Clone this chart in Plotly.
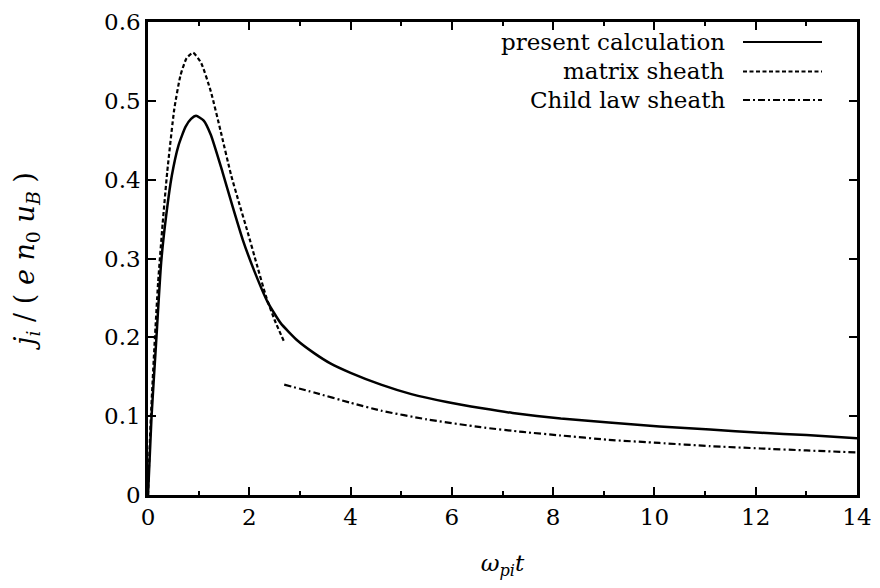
import plotly.graph_objects as go

# Present calculation (solid)
present_t = [0, 0.07, 0.16, 0.26, 0.36, 0.47, 0.6, 0.74, 0.85, 0.95, 1.1, 1.24,
             1.47, 1.67, 1.87, 2.1, 2.36, 2.62, 2.95, 3.28, 3.6, 4.0,
             4.6, 5.2, 5.9, 6.6, 7.2, 8.15, 9.1, 10.1, 11.1, 12.1, 13.0, 14.0]
present_j = [0, 0.1, 0.193, 0.295, 0.355, 0.405, 0.443, 0.467, 0.477, 0.481, 0.475, 0.457,
             0.41, 0.366, 0.324, 0.284, 0.245, 0.218, 0.196, 0.180, 0.167, 0.155,
             0.140, 0.128, 0.118, 0.110, 0.104, 0.097, 0.092, 0.087, 0.083, 0.079, 0.076, 0.072]

# Matrix sheath (dashed)
matrix_t = [0, 0.05, 0.12, 0.2, 0.29, 0.38, 0.52, 0.64, 0.76, 0.89, 1.05, 1.24, 1.44,
            1.64, 1.8, 1.97, 2.15, 2.33, 2.5, 2.69]
matrix_j = [0, 0.09, 0.18, 0.27, 0.345, 0.41, 0.49, 0.532, 0.554, 0.561, 0.548, 0.512, 0.46,
            0.406, 0.37, 0.333, 0.292, 0.252, 0.222, 0.194]

# Child law sheath (dash-dot)
child_t = [2.69, 3.28, 4.0, 4.6, 5.5, 6.57, 7.4, 8.15, 9.1, 10.1, 11.1, 12.1, 13.0, 14.0]
child_j = [0.140, 0.130, 0.117, 0.107, 0.096, 0.086, 0.080, 0.0755, 0.070, 0.066, 0.062, 0.059, 0.0565, 0.054]

legend_labels = ["present calculation", "matrix sheath", "Child law sheath"]
legend_dashes = ["solid", "4px,2.5px", "7px,3px,2px,3px"]

x_ticks = [0, 2, 4, 6, 8, 10, 12, 14]
y_ticks = [0, 0.1, 0.2, 0.3, 0.4, 0.5, 0.6]
y_ticktext = ["0", "0.1", "0.2", "0.3", "0.4", "0.5", "0.6"]

FONT = "DejaVu Serif"
FS = 23

# page has an 8px body margin; figure coords = page coords - 8
OFF = 8
W, H = 864, 572
ml, mt = 148 - OFF, 22 - OFF
mr = W - (857 - OFF)
mb = H - (495 - OFF)
pw, ph = W - ml - mr, H - mt - mb

fig = go.Figure()
fig.add_trace(go.Scatter(x=present_t, y=present_j, mode="lines",
                         line=dict(color="black", width=2.5, shape="spline", smoothing=0.5),
                         showlegend=False))
fig.add_trace(go.Scatter(x=matrix_t, y=matrix_j, mode="lines",
                         line=dict(color="black", width=2.2, dash=legend_dashes[1], shape="spline", smoothing=0.5),
                         showlegend=False))
fig.add_trace(go.Scatter(x=child_t, y=child_j, mode="lines",
                         line=dict(color="black", width=2.2, dash=legend_dashes[2], shape="spline", smoothing=0.5),
                         showlegend=False))


def px2paper_x(px):
    return (px - OFF - ml) / pw


def px2paper_y(py):
    return (H - mb - (py - OFF)) / ph


rows_y = [42, 71.5, 100]
for lab, dash, ry in zip(legend_labels, legend_dashes, rows_y):
    fig.add_annotation(x=px2paper_x(727), y=px2paper_y(ry), xref="paper", yref="paper",
                       text=lab, showarrow=False, xanchor="right", yanchor="middle",
                       font=dict(family=FONT, size=FS, color="black"))
    fig.add_shape(type="line", xref="paper", yref="paper",
                  x0=px2paper_x(743), x1=px2paper_x(822),
                  y0=px2paper_y(ry), y1=px2paper_y(ry),
                  line=dict(color="black", width=2.2, dash=dash))

fig.update_layout(
    width=W, height=H,
    margin=dict(l=ml, r=mr, t=mt, b=mb, autoexpand=False),
    paper_bgcolor="white", plot_bgcolor="white",
    font=dict(family=FONT, size=FS, color="black"),
    showlegend=False,
)
fig.update_xaxes(range=[0, 14], tickvals=x_ticks, ticktext=[str(v) for v in x_ticks],
                 automargin=False, ticklabeloverflow="allow",
                 ticks="inside", ticklen=8, tickwidth=2, tickcolor="black",
                 minor=dict(dtick=1, ticks="inside", ticklen=4, tickwidth=2, tickcolor="black"),
                 showline=True, linewidth=2.5, linecolor="black", mirror="ticks",
                 showgrid=False, zeroline=False,
                 tickfont=dict(family=FONT, size=FS),
                 title=dict(text="<i>ω</i><sub><i>pi</i></sub><i>t</i>", standoff=34,
                            font=dict(family=FONT, size=FS)))
fig.update_yaxes(range=[0, 0.6], tickvals=y_ticks, ticktext=y_ticktext,
                 automargin=False, ticklabeloverflow="allow",
                 ticks="inside", ticklen=8, tickwidth=2, tickcolor="black",
                 showline=True, linewidth=2.5, linecolor="black", mirror="ticks",
                 showgrid=False, zeroline=False,
                 tickfont=dict(family=FONT, size=FS),
                 title=dict(text="<i>j</i><sub><i>i</i></sub> / ( <i>e n</i><sub>0</sub> <i>u</i><sub><i>B</i></sub> )",
                            standoff=62, font=dict(family=FONT, size=27)))

fig.write_html("out.html")
